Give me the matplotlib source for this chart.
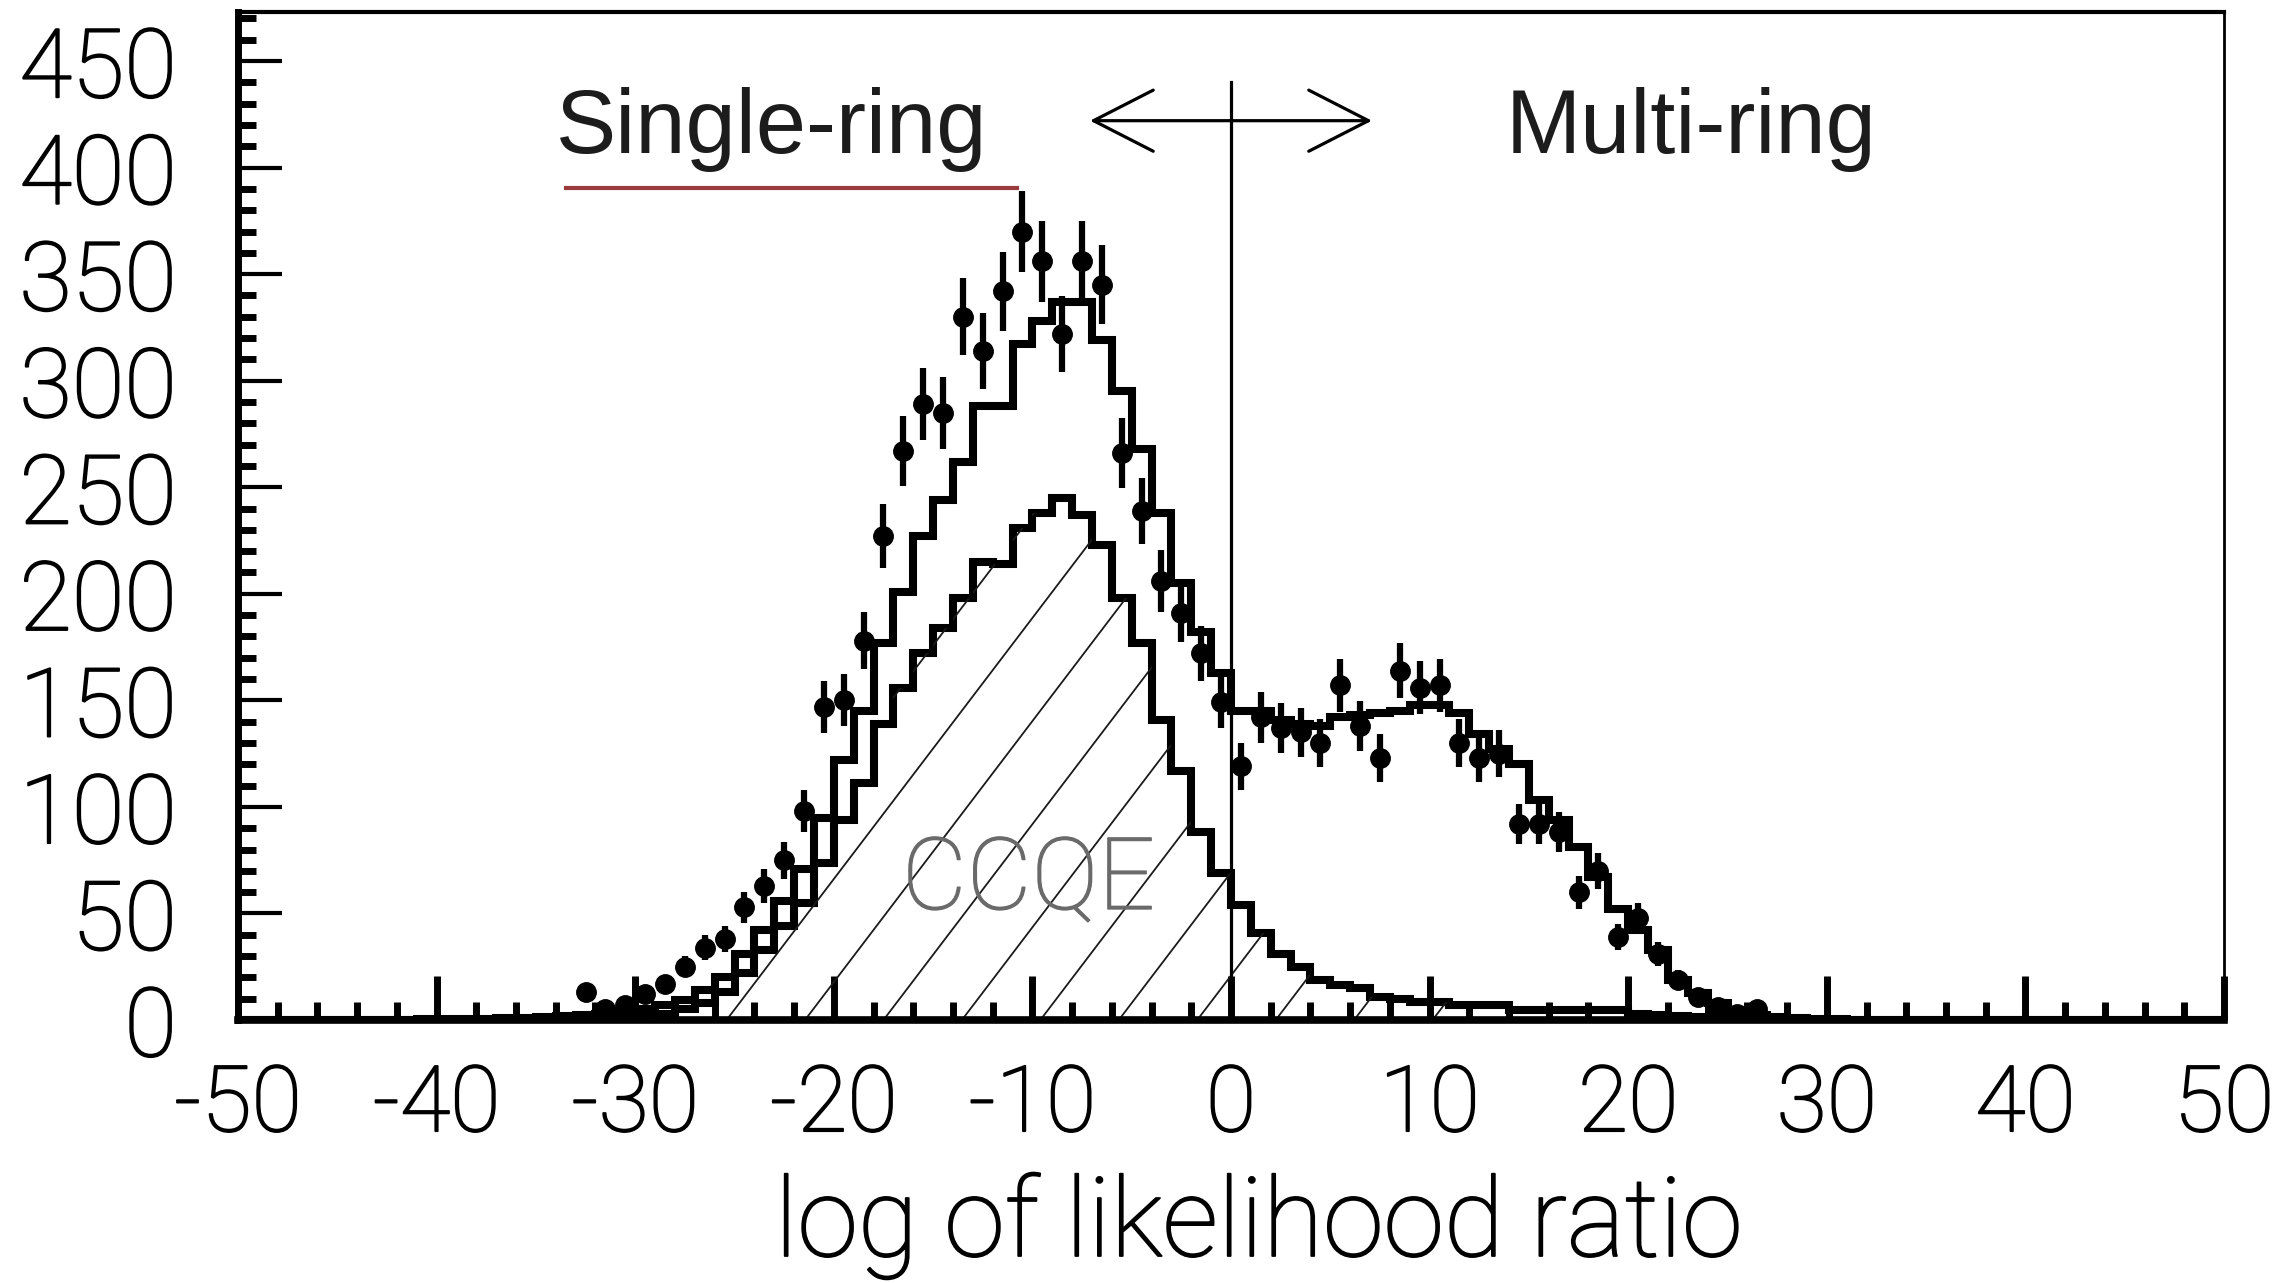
import numpy as np
import matplotlib
matplotlib.use("Agg")
import matplotlib.pyplot as plt
import matplotlib.patheffects as pe
from matplotlib.collections import LineCollection
from matplotlib.ticker import MultipleLocator

plt.rcParams['font.family'] = ['Roboto', 'DejaVu Sans']
plt.rcParams['axes.unicode_minus'] = False

# 1-unit bins across the likelihood-ratio range
edges = np.arange(-50, 51)

# MC total, bins starting at -41
mc_first_bin = -41
mc_total = [0.4, 0.5, 0.6, 0.7, 0.8, 1.0, 1.3, 1.7, 2.2, 3.0,
            4.0, 5.2, 7.0, 9.5, 14, 20, 31, 42, 56, 71,
            95, 122, 145, 177, 201, 227, 244, 262, 288, 288,
            317, 328, 337, 337, 319, 295, 268, 238, 205, 182,
            163, 145, 145, 141, 139, 138, 142, 143, 144, 145,
            148, 148, 144, 134, 127, 120, 103, 94, 81, 67,
            52, 42, 33, 19, 12.6, 8, 4.5, 2.5, 1.5, 1.0,
            0.7, 0.5]

# CCQE component, bins starting at -32
ccqe_first_bin = -32
ccqe = [0.5, 1, 2, 3, 5, 8, 13, 22, 33, 44,
        55, 73.6, 94, 111, 139, 156, 172, 184, 198, 215,
        214, 231, 238, 245, 237, 223, 198, 177, 141, 117,
        88, 69, 54, 41, 31, 25, 19, 16.4, 15, 11,
        10, 8.5, 8.5, 7, 7, 7, 4.7, 4.7, 4.7, 4.7,
        4.7, 4.7, 3, 2.5, 2, 1.5, 1, 0.5]

# data counts, bins starting at -33
data_first_bin = -33
data_counts = [13, 5, 7, 12, 17, 25, 34, 38, 53, 63,
               75, 98, 147, 150, 178, 227, 267, 289, 285, 330,
               314, 342, 370, 356, 322, 356, 345, 266, 239, 206,
               191, 172, 149, 119, 142, 137, 135, 130, 157, 138,
               123, 164, 156, 157, 130, 123, 125, 92, 92, 88,
               60, 70, 39, 48, 31, 19, 11, 6, 3, 5]


def fill_bins(first_bin, values):
    out = np.zeros(len(edges) - 1)
    i = first_bin - edges[0]
    out[i:i + len(values)] = values
    return out


mc_h = fill_bins(mc_first_bin, mc_total)
ccqe_h = fill_bins(ccqe_first_bin, ccqe)
data_x = data_first_bin + np.arange(len(data_counts)) + 0.5
data_y = np.array(data_counts, dtype=float)

W, H = 2295, 1283
fig = plt.figure(figsize=(W / 100, H / 100), dpi=100)
ax = fig.add_axes([238 / W, 263 / H, 1986 / W, 1008 / H])
ax.set_xlim(-50, 50)
ax.set_ylim(0, 473)

# CCQE area: invisible patch used as clip region for the hatching
ccqe_area = ax.stairs(ccqe_h, edges, fill=True, facecolor='none',
                      edgecolor='none')
slope = 12.25
starts = np.arange(-33.3, 14, 3.95)
segs = [[(x0, 0), (x0 + 500 / slope, 500)] for x0 in starts]
hatch = LineCollection(segs, colors='#1a1a1a', linewidths=1.3)
ax.add_collection(hatch)
hatch.set_clip_path(ccqe_area)

ax.stairs(ccqe_h, edges, color='black', lw=5.8)
ax.stairs(mc_h, edges, color='black', lw=5.8)

ax.errorbar(data_x, data_y, yerr=np.sqrt(data_y), fmt='o', color='black',
            ms=14, elinewidth=4.5, capsize=0)

# single/multi ring cut
ax.plot([0, 0], [0, 440], color='black', lw=2.3)
ax.annotate('', xy=(-7.1, 422), xytext=(7.1, 422),
            arrowprops=dict(arrowstyle='<->,head_length=43,head_width=22',
                            mutation_scale=1, lw=2.3, color='black',
                            shrinkA=0, shrinkB=0))
ax.plot([-33.5, -10.8], [390.5, 390.5], color='#9a3c3c', lw=3)

ring_font = ['Liberation Sans', 'DejaVu Sans']
ax.text(-34.0, 407, 'Single-ring', fontsize=65, ha='left', va='baseline',
        color='#1c1c1c', family=ring_font)
ax.text(13.85, 407, 'Multi-ring', fontsize=65, ha='left', va='baseline',
        color='#1c1c1c', family=ring_font)
ax.text(-10.2, 65, 'CCQE', fontsize=72, ha='center', va='center',
        color='#6a6a6a', fontweight='light',
        path_effects=[pe.withStroke(linewidth=1.0, foreground='#6a6a6a')])

# light labels, slightly thickened with a thin outline
thicken = [pe.withStroke(linewidth=1.3, foreground='black')]
fig.text(1259 / W, 27 / H, 'log of likelihood ratio', ha='center',
         va='baseline', fontsize=79, fontweight='light', path_effects=thicken)

ax.xaxis.set_major_locator(MultipleLocator(10))
ax.xaxis.set_minor_locator(MultipleLocator(2))
ax.yaxis.set_major_locator(MultipleLocator(50))
ax.yaxis.set_minor_locator(MultipleLocator(10))
ax.set_yticks(np.arange(0, 451, 50))

ax.tick_params(which='both', direction='in', top=False, right=False)
ax.tick_params(axis='x', which='major', length=32, width=5, labelsize=66,
               pad=30)
ax.tick_params(axis='x', which='minor', length=13, width=5)
ax.tick_params(axis='y', which='major', length=32, width=3, labelsize=69,
               pad=44)
ax.tick_params(axis='y', which='minor', length=13, width=5)
for lbl in ax.get_xticklabels() + ax.get_yticklabels():
    lbl.set_fontweight('light')
    lbl.set_path_effects(thicken)

ax.spines['left'].set_linewidth(5)
ax.spines['bottom'].set_linewidth(5.5)
ax.spines['top'].set_linewidth(3)
ax.spines['right'].set_linewidth(2)

fig.savefig('out.png', dpi=100)
